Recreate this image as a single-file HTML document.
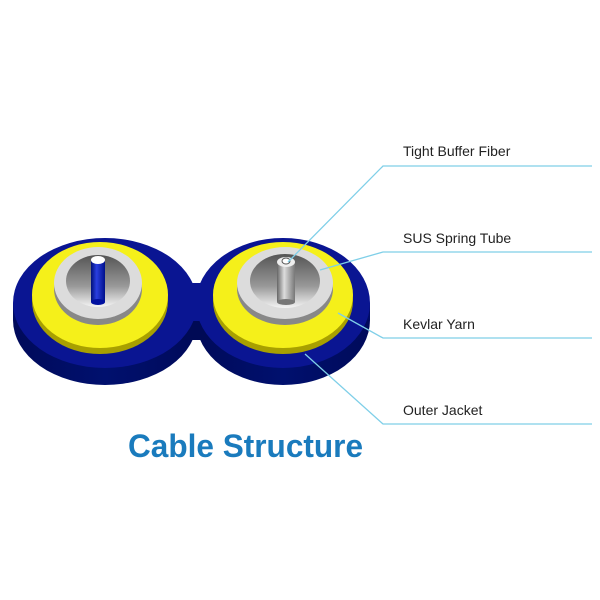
<!DOCTYPE html>
<html><head><meta charset="utf-8"><style>
html,body{margin:0;padding:0;background:#fff;width:600px;height:600px;overflow:hidden}
</style></head><body>
<svg width="600" height="600" viewBox="0 0 600 600" xmlns="http://www.w3.org/2000/svg">
<defs>
<linearGradient id="side" x1="0" x2="1" y1="0" y2="0">
<stop offset="0" stop-color="#000a5a"/><stop offset="0.5" stop-color="#00106e"/><stop offset="1" stop-color="#000a5a"/>
</linearGradient>
<linearGradient id="cyl" x1="0" x2="1"><stop offset="0" stop-color="#666"/><stop offset="0.4" stop-color="#ddd"/><stop offset="1" stop-color="#777"/></linearGradient>
<linearGradient id="bcyl" x1="0" x2="1"><stop offset="0" stop-color="#00107a"/><stop offset="0.4" stop-color="#2a3fe0"/><stop offset="1" stop-color="#00108a"/></linearGradient>
<linearGradient id="hole" x1="0" x2="0" y1="0" y2="1"><stop offset="0" stop-color="#555"/><stop offset="0.6" stop-color="#999"/><stop offset="1" stop-color="#f4f4f4"/></linearGradient>
</defs>
<!-- jacket sides -->
<ellipse cx="105" cy="320" rx="92" ry="65" fill="url(#side)"/>
<ellipse cx="283" cy="320" rx="87" ry="65" fill="url(#side)"/>
<rect x="13" y="303" width="357" height="17" fill="#000c66"/>
<rect x="175" y="300" width="40" height="40" fill="#000a55"/>
<!-- jacket tops -->
<ellipse cx="105" cy="303" rx="92" ry="65" fill="#0a1592"/>
<ellipse cx="283" cy="303" rx="87" ry="65" fill="#0a1592"/>
<rect x="178" y="283" width="34" height="38" fill="#0a1592"/>
<!-- left -->
<ellipse cx="100" cy="301" rx="68" ry="53" fill="#a8a000"/>
<ellipse cx="100" cy="295" rx="68" ry="53" fill="#f5f01a"/>
<ellipse cx="98" cy="289" rx="44" ry="36" fill="#888"/>
<ellipse cx="98" cy="283" rx="44" ry="36" fill="#dcdcdc"/>
<ellipse cx="98" cy="281" rx="32" ry="26" fill="url(#hole)"/>
<rect x="91" y="260" width="14" height="42" fill="url(#bcyl)"/>
<ellipse cx="98" cy="302" rx="7" ry="3" fill="#0010a0"/>
<ellipse cx="98" cy="260" rx="7" ry="4" fill="#fff"/>
<!-- right -->
<ellipse cx="283" cy="301" rx="70" ry="53" fill="#a8a000"/>
<ellipse cx="283" cy="295" rx="70" ry="53" fill="#f5f01a"/>
<ellipse cx="285" cy="289" rx="48" ry="36" fill="#888"/>
<ellipse cx="285" cy="283" rx="48" ry="36" fill="#dcdcdc"/>
<ellipse cx="285" cy="281" rx="35" ry="27" fill="url(#hole)"/>
<rect x="277" y="262" width="18" height="40" fill="url(#cyl)"/>
<ellipse cx="286" cy="302" rx="9" ry="3" fill="#777"/>
<ellipse cx="286" cy="262" rx="9" ry="5" fill="#eee"/>
<ellipse cx="286" cy="261" rx="4" ry="3" fill="#fff" stroke="#555"/>
<!-- leader lines -->
<g stroke="#7fcfe8" stroke-width="1.3" fill="none">
<polyline points="288,262 383,166 592,166"/>
<polyline points="320,270 383,252 592,252"/>
<polyline points="338,313 383,338 592,338"/>
<polyline points="305,354 383,424 592,424"/>
</g>
<g font-family="Liberation Sans, sans-serif" font-size="14" fill="#222">
<text x="403" y="156">Tight Buffer Fiber</text>
<text x="403" y="243">SUS Spring Tube</text>
<text x="403" y="329">Kevlar Yarn</text>
<text x="403" y="415">Outer Jacket</text>
</g>
<text x="128" y="457" font-family="Liberation Sans, sans-serif" font-weight="bold" font-size="32" fill="#1a7bbd" textLength="235" lengthAdjust="spacingAndGlyphs">Cable Structure</text>
</svg>
</body></html>
